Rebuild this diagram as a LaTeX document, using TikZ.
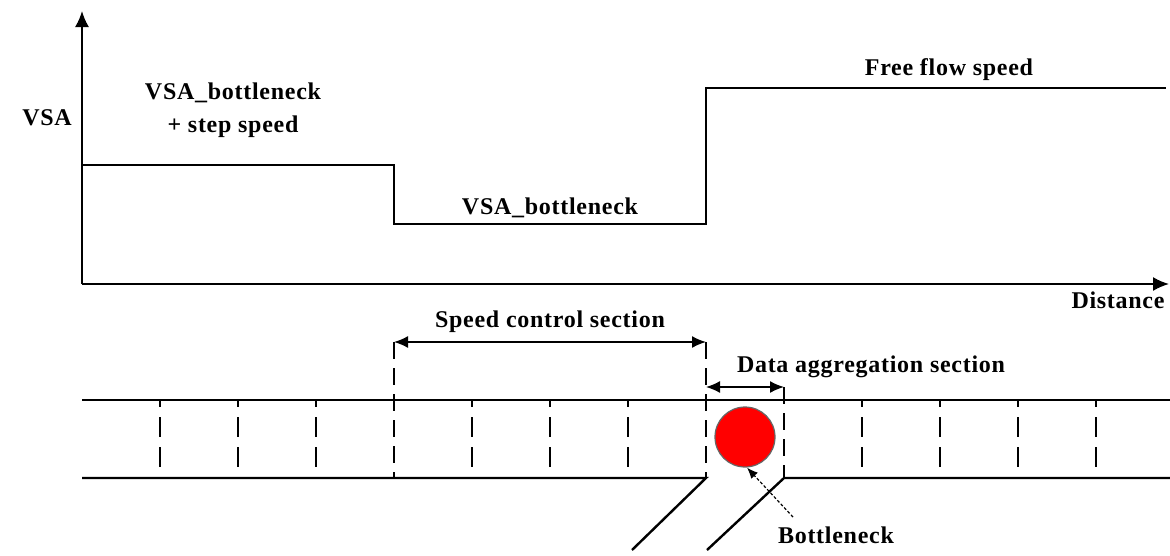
\documentclass[tikz,border=0pt]{standalone}
\usepackage{fontspec}
\setmainfont{Liberation Serif}[LetterSpace=3]
\usetikzlibrary{arrows.meta}

\begin{document}
\begin{tikzpicture}[x=1pt, y=-1pt,
  every node/.style={font=\bfseries\fontsize{24}{33}\selectfont, inner sep=1pt},
  axisline/.style={line width=1.8pt, -{Latex[length=16pt,width=14pt]}},
  profile/.style={line width=1.8pt},
  road/.style={line width=2.4pt},
  lane/.style={line width=1.8pt, dash pattern=on 20pt off 10pt, dash phase=13pt},
  border/.style={line width=1.8pt, dash pattern=on 17pt off 9pt},
  dimarrow/.style={line width=1.6pt, {Latex[length=14pt,width=12pt]}-{Latex[length=14pt,width=12pt]}}]
  \useasboundingbox (0,0) rectangle (1170,555);
  % axes
  \coordinate (O) at (82,284);
  \coordinate (ytop) at (82,11);
  \coordinate (xend) at (1169,284);
  \draw[axisline] (O) -- (ytop);
  \draw[axisline] (O) -- (xend);
  \node (vsa) at (47,118) {VSA};
  \node (dist) at (1118,300) {Distance};
  % speed profile
  \coordinate (p0) at (82,165);
  \coordinate (p1) at (394,165);
  \coordinate (p2) at (394,224);
  \coordinate (p3) at (706,224);
  \coordinate (p4) at (706,88);
  \coordinate (p5) at (1166,88);
  \draw[profile] (p0) -- (p1) -- (p2) -- (p3) -- (p4) -- (p5);
  \node[align=center] (step) at (233,110) {VSA\_bottleneck\\+ step speed};
  \node (bneckspeed) at (550,208) {VSA\_bottleneck};
  \node (free) at (949,70) {Free flow speed};
  % road
  \draw[road] (82,400) -- (1170,400);
  \draw[road] (82,478) -- (706,478) -- (632,550);
  \draw[road] (1170,478) -- (784,478) -- (707,550);
  \foreach \x in {160,238,316,472,550,628,862,940,1018,1096}{%
    \draw[lane] (\x,400) -- (\x,470);
  }
  % section borders
  \coordinate (sc1) at (394,342);
  \coordinate (sc2) at (706,342);
  \coordinate (da1) at (706,387);
  \coordinate (da2) at (784,387);
  \draw[border] (sc1) -- (394,478);
  \draw[border] (sc2) -- (706,478);
  \draw[border] (da2) -- (784,478);
  \draw[dimarrow] (sc1) -- (sc2);
  \draw[dimarrow] (da1) -- (da2);
  \node (sclabel) at (550,322) {Speed control section};
  \node (dalabel) at (871,367) {Data aggregation section};
  % bottleneck
  \node[circle, fill=red, draw=gray!80!black, line width=1.2pt, minimum size=60pt, inner sep=0pt] (bneck) at (745,437) {};
  \node (blabel) at (836,535) {Bottleneck};
  \coordinate (bstart) at (793,517);
  \draw[line width=1.2pt, dash pattern=on 3pt off 2pt, -{Latex[length=11pt,width=9pt]}] (bstart) -- ([xshift=2pt]bneck.south);
\end{tikzpicture}
\end{document}
